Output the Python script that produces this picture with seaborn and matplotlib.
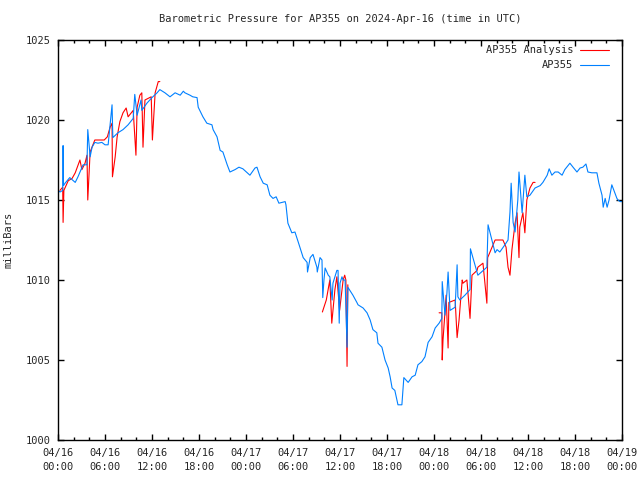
import numpy as np
import pandas as pd
import matplotlib
matplotlib.use("Agg")
import matplotlib.pyplot as plt
import matplotlib.dates as mdates
from matplotlib.lines import Line2D
import seaborn as sns

# --- data: hours since 2024-04-16 00:00 UTC, pressure in mB ---
start = pd.Timestamp("2024-04-16 00:00")

obs_hours = [0, 0.26, 0.6, 0.65, 0.7, 0.9, 1.5, 2.2, 2.55, 3.2, 3.7, 3.8, 4.1, 4.35, 4.7, 5.1,
             5.6, 6.0, 6.4, 6.9, 7.0, 7.65, 8.3, 8.95, 9.6, 9.8, 10.1, 10.6, 10.7, 11.35, 12.0,
             12.65, 13.0, 13.65, 14.3, 14.95, 15.6, 16.0, 16.2, 16.85, 17.2, 17.75, 17.9, 18.5,
             19.0, 19.65, 19.8, 20.3, 20.7, 21.05, 21.6, 21.95, 22.6, 23.1, 23.6, 24.5, 25.15,
             25.4, 25.8, 26.2, 26.7, 27.05, 27.45, 27.85, 28.2, 29.0, 29.1, 29.35, 29.85, 30.25,
             30.65, 31.3, 31.8, 31.85, 32.2, 32.55, 33.05, 33.1, 33.45, 33.7, 33.8, 33.95, 34.1,
             34.5, 34.7, 35.0, 35.1, 35.6, 35.75, 35.9, 36.0, 36.25, 36.4, 36.65, 36.9, 37.0,
             37.65, 38.15, 38.3, 38.95, 39.45, 39.85, 40.2, 40.7, 40.85, 41.35, 41.75, 42.15,
             42.4, 42.65, 43.0, 43.4, 43.9, 44.15, 44.7, 45.2, 45.6, 45.95, 46.45, 46.85, 47.25,
             47.75, 48.15, 48.65, 49.0, 49.05, 49.4, 49.65, 49.8, 50.05, 50.7, 50.95, 51.05,
             51.3, 51.95, 52.6, 52.65, 53.6, 54.75, 54.9, 55.8, 56.05, 56.4, 57.05, 57.45, 57.7,
             57.85, 58.1, 58.35, 58.7, 58.85, 59.25, 59.6, 59.85, 60.25, 60.9, 61.55, 61.9,
             62.45, 62.7, 63.05, 63.45, 63.85, 64.35, 64.7, 65.35, 65.75, 66.25, 66.65, 67.0,
             67.4, 67.65, 68.15, 68.8, 69.05, 69.45, 69.6, 69.85, 70.1, 70.35, 70.7, 70.85,
             71.35, 71.5, 71.75, 72.0]
obs_mb = [1015.6, 1015.5, 1015.6, 1018.4, 1015.9, 1016.05, 1016.4, 1016.1, 1016.45, 1017.2,
          1017.2, 1019.4, 1017.7, 1018.3, 1018.6, 1018.55, 1018.6, 1018.45, 1018.45, 1020.95,
          1018.9, 1019.2, 1019.4, 1019.7, 1020.1, 1021.6, 1020.3, 1021.25, 1020.6, 1021.05,
          1021.4, 1021.7, 1021.9, 1021.7, 1021.45, 1021.7, 1021.55, 1021.8, 1021.7, 1021.55,
          1021.45, 1021.4, 1020.8, 1020.2, 1019.8, 1019.7, 1019.4, 1018.95, 1018.1, 1018.0,
          1017.2, 1016.75, 1016.9, 1017.05, 1016.95, 1016.55, 1017.0, 1017.05, 1016.45,
          1016.05, 1015.95, 1015.3, 1015.1, 1015.2, 1014.8, 1014.9, 1014.7, 1013.55, 1012.95,
          1013.0, 1012.4, 1011.4, 1011.1, 1010.5, 1011.4, 1011.6, 1010.8, 1010.5, 1011.4,
          1011.25, 1008.9, 1010.0, 1010.75, 1010.3, 1010.2, 1008.75, 1009.8, 1010.6, 1010.6,
          1007.3, 1009.8, 1010.2, 1010.0, 1010.0, 1005.8, 1009.55, 1009.05, 1008.6, 1008.45,
          1008.25, 1007.95, 1007.5, 1006.9, 1006.7, 1006.05, 1005.8, 1005.0, 1004.5, 1003.95,
          1003.25, 1003.1, 1002.2, 1002.2, 1003.9, 1003.6, 1003.95, 1004.05, 1004.7, 1004.9,
          1005.2, 1006.1, 1006.45, 1007.0, 1007.3, 1007.6, 1009.9, 1007.8, 1009.2, 1010.5,
          1008.1, 1008.3, 1010.95, 1008.95, 1008.75, 1009.05, 1009.4, 1011.95, 1010.3, 1010.8,
          1013.45, 1011.7, 1011.9, 1011.75, 1012.2, 1012.5, 1014.25, 1016.05, 1013.6, 1013.0,
          1015.0, 1016.75, 1014.2, 1016.55, 1015.2, 1015.3, 1015.75, 1015.9, 1016.1, 1016.55,
          1016.95, 1016.55, 1016.75, 1016.75, 1016.55, 1016.9, 1017.3, 1017.05, 1016.75,
          1017.0, 1017.05, 1017.25, 1016.75, 1016.7, 1016.7, 1016.05, 1015.3, 1014.55, 1015.1,
          1014.55, 1015.0, 1015.95, 1015.75, 1015.1, 1015.0, 1014.9, 1014.9]

ana_hours = [0.25, 0.6, 0.65, 0.75, 1.3, 1.8, 2.2, 2.8, 3.05, 3.45, 3.7, 3.8, 4.1, 4.7, 5.9,
             6.3, 6.65, 6.9, 6.95, 7.3, 7.55, 7.9, 8.3, 8.7, 8.95, 9.6, 9.95, 10.1, 10.45, 10.7,
             10.85, 11.1, 11.9, 12.05, 12.4, 12.8, 13.0,
             33.75, 34.25, 34.7, 34.95, 35.35, 35.6, 35.95, 36.4, 36.6, 36.75, 36.9, 37.0,
             48.65, 49.0, 49.05, 49.15, 49.55, 49.8, 49.9, 50.7, 50.95, 51.2, 51.6, 51.7, 52.2,
             52.6, 52.85, 53.5, 53.6, 54.25, 54.75, 54.85, 55.8, 56.8, 57.2, 57.45, 57.7, 57.95,
             58.35, 58.6, 58.85, 58.95, 59.35, 59.6, 59.85, 60.25, 60.65, 60.9]
ana_mb = [1015.6, 1015.8, 1013.6, 1015.6, 1016.2, 1016.35, 1016.7, 1017.5, 1016.9, 1017.3,
          1017.8, 1015.0, 1018.0, 1018.75, 1018.75, 1018.95, 1019.55, 1019.8, 1016.45, 1017.7,
          1018.95, 1019.9, 1020.45, 1020.75, 1020.2, 1020.6, 1017.8, 1020.8, 1021.55, 1021.7,
          1018.3, 1021.25, 1021.45, 1018.75, 1021.7, 1022.4, 1022.4,
          1008.0, 1008.75, 1010.0, 1007.3, 1009.4, 1010.2, 1008.1, 1010.0, 1010.3, 1010.0,
          1004.6, 1009.7,
          1007.95, 1007.95, 1005.0, 1006.25, 1009.05, 1005.75, 1008.6, 1008.75, 1006.4, 1007.5,
          1010.0, 1009.8, 1010.0, 1007.6, 1010.3, 1010.6, 1010.8, 1011.05, 1008.55, 1011.4,
          1012.5, 1012.5, 1012.05, 1010.8, 1010.3, 1011.9, 1013.55, 1014.2, 1011.4, 1013.3,
          1014.2, 1012.95, 1015.0, 1015.75, 1016.1, 1016.1]
ana_run = [1] * 37 + [2] * 12 + [3] * 36

obs = pd.DataFrame({"time": start + pd.to_timedelta(obs_hours, unit="h"), "mb": obs_mb})
ana = pd.DataFrame({"time": start + pd.to_timedelta(ana_hours, unit="h"), "mb": ana_mb,
                    "run": ana_run})

red = "#ff0000"
blue = "#0080ff"
lw = 0.8  # ~1 pixel, gnuplot style

sns.set_style("ticks")
plt.rcParams["font.family"] = ["DejaVu Sans Mono"]

fig = plt.figure(figsize=(6.4, 4.8), dpi=100)
ax = fig.add_axes([58 / 640, 40 / 480, 564 / 640, 400 / 480])

sns.lineplot(data=ana, x="time", y="mb", units="run", estimator=None, color=red,
             linewidth=lw, ax=ax, legend=False)
sns.lineplot(data=obs, x="time", y="mb", color=blue, linewidth=lw, ax=ax, legend=False)

ax.set_xlim(start, start + pd.Timedelta(hours=72))
ax.set_ylim(1000, 1025)
ax.set_yticks(np.arange(1000, 1026, 5))
ax.xaxis.set_major_locator(mdates.HourLocator(byhour=[0, 6, 12, 18]))
ax.xaxis.set_minor_locator(mdates.HourLocator(interval=2))
ax.xaxis.set_major_formatter(mdates.DateFormatter("%m/%d\n%H:%M"))

ax.tick_params(which="both", direction="in", top=True, right=True, labelsize=7.5, color="black")
ax.tick_params(which="major", length=4, width=1)
ax.tick_params(which="minor", length=2.5, width=1)
ax.tick_params(axis="x", pad=6)
ax.tick_params(axis="y", pad=5)
for lbl in ax.get_xticklabels():
    lbl.set_linespacing(1.45)
for sp in ax.spines.values():
    sp.set_visible(True)
    sp.set_color("black")
    sp.set_linewidth(1)

ax.set_xlabel("")
ax.set_ylabel("milliBars", fontsize=7.5, labelpad=9)
ax.set_title("Barometric Pressure for AP355 on 2024-Apr-16 (time in UTC)", fontsize=7.5, pad=13)

handles = [Line2D([], [], color=red, lw=lw), Line2D([], [], color=blue, lw=lw)]
ax.legend(handles, ["AP355 Analysis", "AP355"], loc="upper right", frameon=False,
          markerfirst=False, fontsize=7.5, handlelength=2.8, labelspacing=0.5,
          borderaxespad=0.3, handletextpad=0.6,
          bbox_to_anchor=(1 - 6 / 564, 1 + 2 / 400))

fig.savefig("out.png", dpi=100)
